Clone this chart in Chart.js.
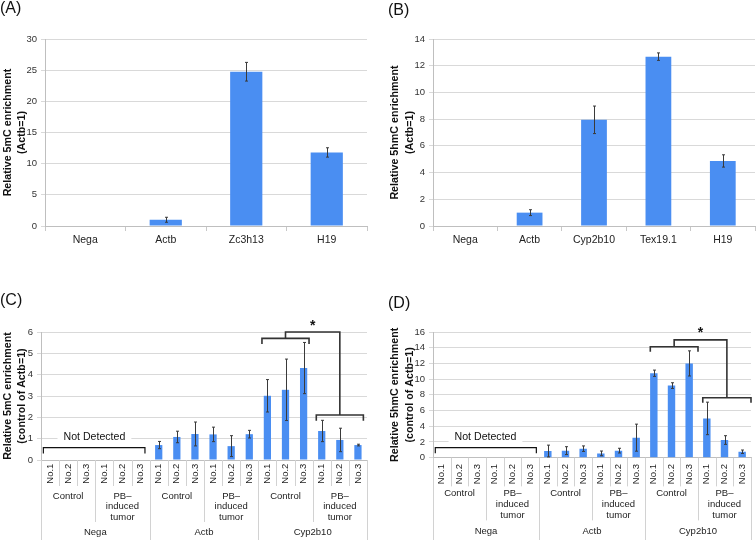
<!DOCTYPE html>
<html><head><meta charset="utf-8">
<script src="https://cdn.jsdelivr.net/npm/chart.js@4.4.1/dist/chart.umd.min.js"></script>
<style>
body{margin:0;background:#fff;width:756px;height:540px;position:relative;overflow:hidden;font-family:"Liberation Sans",Arial,sans-serif;}
canvas{position:absolute;}
.lbl{position:absolute;font-size:16px;color:#111;line-height:16px;}
</style></head><body>
<canvas id="cA" width="378" height="270" style="left:0;top:0"></canvas>
<canvas id="cB" width="378" height="270" style="left:378px;top:0"></canvas>
<canvas id="cC" width="378" height="270" style="left:0;top:270px"></canvas>
<canvas id="cD" width="378" height="270" style="left:378px;top:270px"></canvas>
<div class="lbl" style="left:0;top:0">(A)</div>
<div class="lbl" style="left:388px;top:2px">(B)</div>
<div class="lbl" style="left:0;top:292px">(C)</div>
<div class="lbl" style="left:388px;top:295px">(D)</div>
<script>
// ---------- data ----------
const catA = ['Nega', 'Actb', 'Zc3h13', 'H19'];
const valA = [0, 1.0, 24.75, 11.8];
const errA = [0, 0.4, 1.5, 0.75];

const catB = ['Nega', 'Actb', 'Cyp2b10', 'Tex19.1', 'H19'];
const valB = [0, 1.0, 7.95, 12.68, 4.87];
const errB = [0, 0.22, 1.03, 0.28, 0.46];

const leafLabels = ['No.1','No.2','No.3','No.1','No.2','No.3',
                    'No.1','No.2','No.3','No.1','No.2','No.3',
                    'No.1','No.2','No.3','No.1','No.2','No.3'];
const groupLabels = [['Control'], ['PB\u2013', 'induced', 'tumor']];
const geneLabels = ['Nega', 'Actb', 'Cyp2b10'];

const valC = [0,0,0,0,0,0, 0.70,1.08,1.22,1.20,0.65,1.21, 3.01,3.29,4.31,1.36,0.94,0.70];
const errC = [0,0,0,0,0,0, 0.17,0.27,0.56,0.34,0.49,0.18, 0.76,1.44,1.20,0.50,0.55,0.04];

const valD = [0,0,0,0,0,0, 0.85,0.90,1.15,0.55,0.90,2.55, 10.75,9.18,12.0,5.0,2.25,0.76];
const errD = [0,0,0,0,0,0, 0.75,0.50,0.35,0.30,0.30,1.72, 0.40,0.36,1.60,2.07,0.55,0.22];

// annotation values (category index, value)
const notDetC = {from: -0.37, to: 5.24, level: 0.58, foot: 0.30, textAt: 2.45, textLevel: 1.08};
const notDetD = {from: -0.37, to: 5.35, level: 1.27, foot: 0.56, textAt: 2.47, textLevel: 2.6};
const sigC = {left: [11.7, 14.3], right: [14.7, 17.3], leftLevel: 5.70, leftFoot: 5.44, rightLevel: 2.11, rightFoot: 1.84, top: 6.0, star: 6.43};
const sigD = {left: [11.8, 14.5], right: [14.77, 17.5], leftLevel: 14.13, leftFoot: 13.5, rightLevel: 7.64, rightFoot: 7.0, top: 15.0, star: 16.3};

// ---------- style ----------
const BLUE = '#4a8ef2';
const FONT = '"Liberation Sans", Arial, sans-serif';
Chart.defaults.font.family = FONT;
Chart.defaults.color = '#333';
Chart.defaults.animation = false;

const errorBars = {
  id: 'errorBars',
  afterDatasetsDraw(chart, args, opts) {
    const errs = opts.errors; if (!errs) return;
    const ys = chart.scales.y, meta = chart.getDatasetMeta(0), vals = chart.data.datasets[0].data;
    const ctx = chart.ctx; ctx.save(); ctx.strokeStyle = '#3a3a3a'; ctx.lineWidth = 1;
    meta.data.forEach((el, i) => {
      const e = errs[i]; if (!e) return;
      const x = Math.round(el.x) + 0.5;
      const y1 = ys.getPixelForValue(vals[i] + e), y2 = ys.getPixelForValue(vals[i] - e);
      ctx.beginPath(); ctx.moveTo(x, y1); ctx.lineTo(x, y2);
      ctx.moveTo(x - 1.5, y1); ctx.lineTo(x + 1.5, y1);
      ctx.moveTo(x - 1.5, y2); ctx.lineTo(x + 1.5, y2);
      ctx.stroke();
    });
    ctx.restore();
  }
};

const annot = {
  id: 'annot',
  afterDatasetsDraw(chart, args, o) {
    const xs = chart.scales.x, ys = chart.scales.y, ctx = chart.ctx;
    const X = v => xs.getPixelForValue(0) + v * (xs.getPixelForValue(1) - xs.getPixelForValue(0));
    const Y = v => ys.getPixelForValue(v);
    ctx.save();
    if (o.nd) {
      const n = o.nd;
      ctx.font = '10.6px ' + FONT; ctx.textAlign = 'center'; ctx.textBaseline = 'middle';
      const tw = ctx.measureText('Not Detected').width;
      ctx.fillStyle = '#fff';
      ctx.fillRect(X(n.textAt) - tw / 2 - 6, Y(n.textLevel) - 6, tw + 12, 12);
      ctx.fillStyle = '#111';
      ctx.fillText('Not Detected', X(n.textAt), Y(n.textLevel));
      ctx.strokeStyle = '#111'; ctx.lineWidth = 1.2;
      ctx.beginPath();
      ctx.moveTo(X(n.from), Y(n.foot)); ctx.lineTo(X(n.from), Y(n.level));
      ctx.lineTo(X(n.to), Y(n.level)); ctx.lineTo(X(n.to), Y(n.foot));
      ctx.stroke();
    }
    if (o.sig) {
      const s = o.sig;
      ctx.strokeStyle = '#333'; ctx.lineWidth = 1.6;
      const c1 = (s.left[0] + s.left[1]) / 2, c2 = (s.right[0] + s.right[1]) / 2;
      ctx.beginPath();
      ctx.moveTo(X(s.left[0]), Y(s.leftFoot)); ctx.lineTo(X(s.left[0]), Y(s.leftLevel));
      ctx.lineTo(X(s.left[1]), Y(s.leftLevel)); ctx.lineTo(X(s.left[1]), Y(s.leftFoot));
      ctx.moveTo(X(s.right[0]), Y(s.rightFoot)); ctx.lineTo(X(s.right[0]), Y(s.rightLevel));
      ctx.lineTo(X(s.right[1]), Y(s.rightLevel)); ctx.lineTo(X(s.right[1]), Y(s.rightFoot));
      ctx.moveTo(X(c1), Y(s.leftLevel)); ctx.lineTo(X(c1), Y(s.top));
      ctx.lineTo(X(c2), Y(s.top)); ctx.lineTo(X(c2), Y(s.rightLevel));
      ctx.stroke();
      ctx.fillStyle = '#111'; ctx.font = 'bold 14px ' + FONT;
      ctx.textAlign = 'center'; ctx.textBaseline = 'middle';
      ctx.fillText('*', X((c1 + c2) / 2), Y(s.star) + 3);
    }
    ctx.restore();
  }
};

const multiLevel = {
  id: 'multiLevel',
  afterDraw(chart, args, o) {
    if (!o.leaf) return;
    const xs = chart.scales.x, ctx = chart.ctx;
    const n = o.leaf.length;
    const w = xs.getPixelForValue(1) - xs.getPixelForValue(0);
    const base = xs.top;
    const edge = i => xs.getPixelForValue(0) - w / 2 + i * w;
    const gs = o.groupSize, per = gs * o.groups.length;
    ctx.save();
    ctx.strokeStyle = '#d2d2d2'; ctx.lineWidth = 1;
    for (let i = 0; i <= n; i++) {
      let bottom = base + o.leafH;
      if (i % gs === 0) bottom = base + o.groupH;
      if (i % per === 0) bottom = chart.height;
      const x = Math.round(edge(i)) + 0.5;
      ctx.beginPath(); ctx.moveTo(x, base); ctx.lineTo(x, bottom); ctx.stroke();
    }
    ctx.fillStyle = '#222'; ctx.font = o.font;
    ctx.textAlign = 'center'; ctx.textBaseline = 'middle';
    o.leaf.forEach((t, i) => {
      ctx.save(); ctx.translate(xs.getPixelForValue(i), base + o.leafY);
      ctx.rotate(-Math.PI / 2); ctx.fillText(t, 0, 0); ctx.restore();
    });
    for (let g = 0; g < n / gs; g++) {
      const cx = (edge(g * gs) + edge((g + 1) * gs)) / 2;
      o.groups[g % o.groups.length].forEach((t, k) => ctx.fillText(t, cx, base + o.groupY + k * o.groupLH));
    }
    o.genes.forEach((t, k) => {
      const cx = (edge(k * per) + edge((k + 1) * per)) / 2;
      ctx.fillText(t, cx, base + o.geneY);
    });
    ctx.restore();
  }
};

function makeChart(id, cfg) {
  const multi = !!cfg.multi;
  return new Chart(document.getElementById(id), {
    type: 'bar',
    data: { labels: cfg.labels, datasets: [{ data: cfg.values, backgroundColor: BLUE, borderWidth: 0,
      barPercentage: cfg.barPct, categoryPercentage: 1 }] },
    plugins: [errorBars, annot, multiLevel],
    options: {
      responsive: false, maintainAspectRatio: false,
      layout: { padding: { top: cfg.padTop, right: cfg.padRight, left: 0, bottom: 0 } },
      plugins: { legend: { display: false }, tooltip: { enabled: false },
        errorBars: { errors: cfg.errors },
        annot: { nd: cfg.nd, sig: cfg.sig },
        multiLevel: cfg.multi || {} },
      scales: {
        x: {
          offset: true,
          afterFit: s => { s.height = cfg.xHeight; },
          grid: { display: !multi, drawOnChartArea: false, drawTicks: true, tickLength: 5, offset: true, color: '#c8c8c8' },
          border: { display: true, color: '#bfbfbf' },
          ticks: { display: !multi, font: { size: 10.5 }, color: '#222', padding: 3, maxRotation: 0, autoSkip: false }
        },
        y: {
          min: 0, max: cfg.yMax,
          afterFit: s => { s.width = cfg.yWidth; },
          ticks: { stepSize: cfg.yStep, font: { size: 9.5 }, color: '#333', padding: 4 },
          grid: { color: '#d9d9d9', tickLength: 4, drawTicks: true },
          border: { display: true, color: '#bfbfbf' },
          title: { display: true, text: cfg.title, color: '#111',
            font: { size: 10.7, weight: 'bold', lineHeight: cfg.titleLH },
            padding: { top: cfg.titlePad, bottom: 0 } }
        }
      }
    }
  });
}

makeChart('cA', { labels: catA, values: valA, errors: errA, barPct: 0.4,
  padTop: 39, padRight: 11, xHeight: 44, yMax: 30, yStep: 5, yWidth: 45,
  title: ['Relative 5mC enrichment', '(Actb=1)'], titleLH: 1.31, titlePad: 1 });

makeChart('cB', { labels: catB, values: valB, errors: errB, barPct: 0.4,
  padTop: 39, padRight: 1, xHeight: 44, yMax: 14, yStep: 2, yWidth: 55,
  title: ['Relative 5hmC enrichment', '(Actb=1)'], titleLH: 1.38, titlePad: 9.6 });

makeChart('cC', { labels: leafLabels, values: valC, errors: errC, barPct: 0.4,
  padTop: 62, padRight: 11, xHeight: 80, yMax: 6, yStep: 1, yWidth: 41,
  title: ['Relative 5mC enrichment', '(control of Actb=1)'], titleLH: 1.31, titlePad: 1,
  nd: notDetC, sig: sigC,
  multi: { leaf: leafLabels, groups: groupLabels, genes: geneLabels, groupSize: 3,
    font: '9.5px ' + FONT, leafY: 13.7, leafH: 26, groupH: 62, groupY: 36, groupLH: 10.7, geneY: 72.7 } });

makeChart('cD', { labels: leafLabels, values: valD, errors: errD, barPct: 0.42,
  padTop: 62, padRight: 5, xHeight: 82.3, yMax: 16, yStep: 2, yWidth: 55,
  title: ['Relative 5hmC enrichment', '(control of Actb=1)'], titleLH: 1.38, titlePad: 9.6,
  nd: notDetD, sig: sigD,
  multi: { leaf: leafLabels, groups: groupLabels, genes: geneLabels, groupSize: 3,
    font: '9.5px ' + FONT, leafY: 16.4, leafH: 28.7, groupH: 62.7, groupY: 36, groupLH: 11, geneY: 73.4 } });
</script>
</body></html>
